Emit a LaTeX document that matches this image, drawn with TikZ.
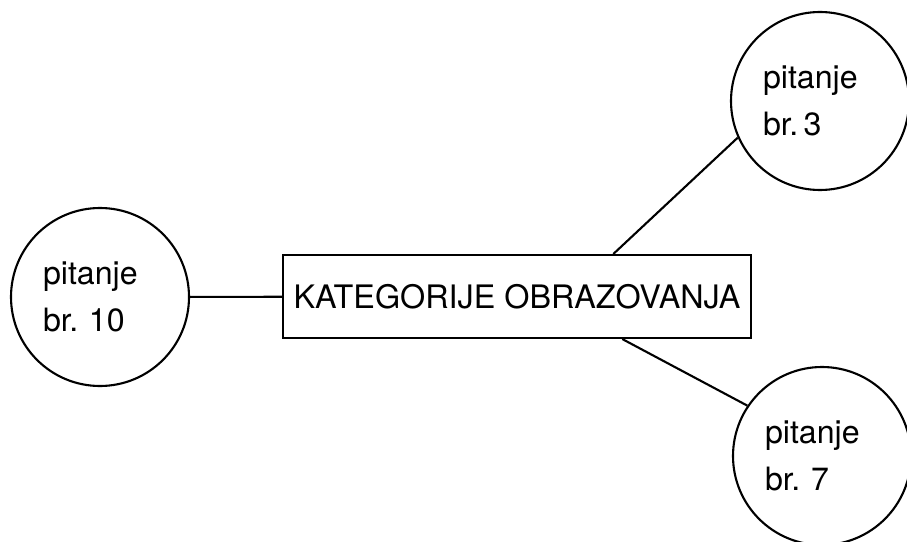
\documentclass[tikz,border=0pt]{standalone}
\usepackage{fontspec}
\setmainfont{TeX Gyre Heros}
\usetikzlibrary{calc}

\tikzset{
  pitanje/.style={draw, circle, line width=1.2pt, minimum size=3.56cm,
    text width=2.28cm, align=left, inner sep=0pt,
    font=\fontsize{18.3}{27}\selectfont},
  kategorija/.style={draw, rectangle, line width=1.2pt, minimum width=9.36cm,
    minimum height=1.66cm, font=\fontsize{18.4}{22}\selectfont}
}

\begin{document}
\begin{tikzpicture}
  \useasboundingbox (0,0) rectangle (18.14,10.82);

  \node (kat) at (10.34, 4.89) [kategorija] {KATEGORIJE OBRAZOVANJA};

  \node (p10) at ( 2.00, 4.88) [pitanje] {pitanje\\br.\ 10};
  \node (p3)  at (16.40, 8.80) [pitanje] {pitanje\\br.\,3};
  \node (p7)  at (16.44, 1.70) [pitanje] {pitanje\\br.\ 7};

  \draw[line width=1.2pt] (p10) -- (kat);
  \draw[line width=1.2pt] ($(kat.north west)!0.705!(kat.north east)$) -- (p3.204);
  \draw[line width=1.2pt] ($(kat.south west)!0.724!(kat.south east)$) -- (p7.146);
\end{tikzpicture}
\end{document}
